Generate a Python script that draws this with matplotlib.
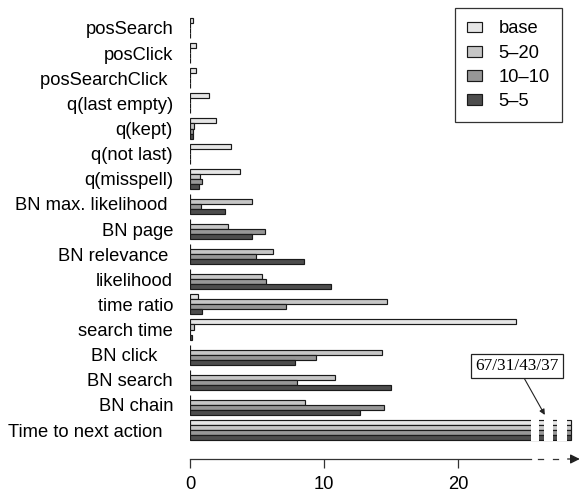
import numpy as np
import matplotlib
matplotlib.use("Agg")
import matplotlib.pyplot as plt

# features, top to bottom
features = ["posSearch", "posClick", "posSearchClick", "q(last empty)",
            "q(kept)", "q(not last)", "q(misspell)", "BN max. likelihood",
            "BN page", "BN relevance", "likelihood", "time ratio",
            "search time", "BN click", "BN search", "BN chain",
            "Time to next action"]
# trailing spaces so labels sit like in the original
label_pad = [0, 0, 1, 0, 0, 0, 0, 1, 0, 1, 0, 0, 0, 3, 0, 0, 2]

series = ["base", "5\u201320", "10\u201310", "5\u20135"]
base = [0.25, 0.45, 0.45, 1.44, 1.94, 3.03, 3.73, 0, 0, 0, 0, 0.62,
        24.3, 0, 0, 0, 67]
s5_20 = [0, 0, 0, 0, 0.32, 0, 0.75, 4.65, 2.81, 6.22, 5.40, 14.68,
         0.32, 14.3, 10.82, 8.61, 31]
s10_10 = [0, 0, 0, 0, 0.25, 0, 0.87, 0.82, 5.62, 4.90, 5.70, 7.19,
          0, 9.43, 8.01, 14.43, 43]
s5_5 = [0, 0, 0, 0, 0.25, 0, 0.67, 2.61, 4.65, 8.51, 10.5, 0.92,
        0.12, 7.81, 15.0, 12.71, 37]
colors = ["#e6e6e6", "#c6c6c6", "#979797", "#4d4d4d"]

# broken axis: values beyond this are cut
cap = 28.43
gaps = [(25.41, 26.03), (26.40, 27.03), (27.38, 28.07)]

plt.rcParams["font.family"] = ["Liberation Sans", "DejaVu Sans"]
plt.rcParams["font.size"] = 13.2

fig = plt.figure(figsize=(5.79, 4.95), dpi=100)
ax = fig.add_axes([190 / 579, 36 / 495, 389 / 579, 451 / 495])

y = np.arange(len(features))
offsets = [-0.3, -0.1, 0.1, 0.3]
for vals, off, col, name in zip([base, s5_20, s10_10, s5_5], offsets, colors, series):
    w = np.minimum(np.array(vals, dtype=float), cap)
    ax.barh(y + off, w, height=0.2, color=col, edgecolor="#1a1a1a",
            linewidth=0.85, label=name)

# white gaps through the cut bars
last = len(features) - 1
for g0, g1 in gaps:
    ax.barh(last, g1 - g0, left=g0, height=0.9, color="white",
            linewidth=0, zorder=3)

ax.set_xlim(0, 29.0)
ax.set_ylim(17.154, -0.796)

ax.set_yticks(y)
ax.set_yticklabels([f + " " * p for f, p in zip(features, label_pad)])
ax.tick_params(axis="y", length=0, pad=12.2)
ax.set_xticks([0, 10, 20])
ax.tick_params(axis="x", direction="out", length=6.5, width=0.9,
               color="#333333", pad=6)

for s in ["top", "right", "left"]:
    ax.spines[s].set_visible(False)
ax.spines["bottom"].set_bounds(0, gaps[0][0])
ax.spines["bottom"].set_color("#333333")
ax.spines["bottom"].set_linewidth(0.9)

# dashed continuation of the axis and arrow
tr = ax.get_xaxis_transform()
for d0, d1 in [(25.96, 26.33), (27.03, 27.44)]:
    ax.plot([d0, d1], [0, 0], color="#333333", lw=0.9, transform=tr,
            clip_on=False)
ax.annotate("", xy=(29.06, 0), xytext=(28.15, 0), xycoords=tr,
            textcoords=tr,
            arrowprops=dict(arrowstyle="-|>", color="#222222", lw=0.9,
                            mutation_scale=14, shrinkA=0, shrinkB=0))

ax.annotate("/".join(str(v[-1]) for v in [base, s5_20, s10_10, s5_5]),
            xy=(26.45, 15.40), xytext=(24.40, 13.45),
            ha="center", va="center", family="Liberation Serif",
            fontsize=12.4,
            bbox=dict(boxstyle="square,pad=0.25", fc="white", ec="#222222",
                      lw=0.9),
            arrowprops=dict(arrowstyle="-|>", color="#222222", lw=0.8,
                            mutation_scale=8, shrinkA=0, shrinkB=0))

leg = fig.legend(loc="upper right", bbox_to_anchor=(562 / 579, 1 - 8 / 495),
                 bbox_transform=fig.transFigure, borderaxespad=0,
                 fancybox=False, edgecolor="#333333", framealpha=1,
                 handlelength=0.82, handleheight=0.54, handletextpad=0.87,
                 borderpad=0.68, labelspacing=0.39)
leg.get_frame().set_linewidth(0.9)

fig.savefig("out.png", dpi=100)
